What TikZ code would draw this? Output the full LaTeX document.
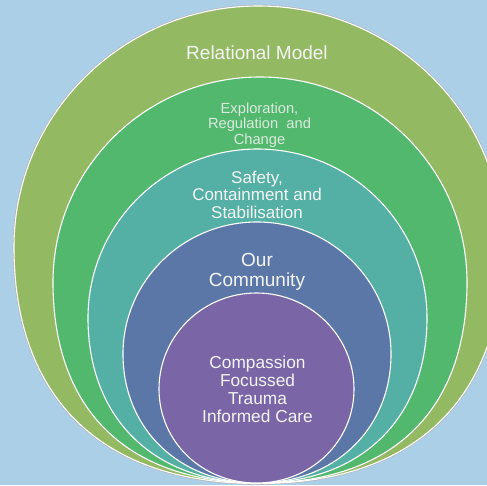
\documentclass[tikz,border=0pt]{standalone}
\usepackage{fontspec}
\setmainfont{Liberation Sans}
\definecolor{bgblue}{HTML}{ACCFE8}
\definecolor{ringA}{HTML}{93BA62}
\definecolor{ringB}{HTML}{52B86E}
\definecolor{ringC}{HTML}{54B0A5}
\definecolor{ringD}{HTML}{5B77A8}
\definecolor{ringE}{HTML}{7A65A6}
\definecolor{txt}{HTML}{F4F4F4}
\definecolor{txtdim}{HTML}{DCE9DE}
\tikzset{
  ring/.style={draw=white, line width=1.1pt},
  lbl/.style={anchor=base, inner sep=0pt, text=txt},
}
\newcommand{\lines}[3]{\fontsize{#1}{#2}\selectfont\begin{tabular}[t]{@{}c@{}}#3\end{tabular}}
% #1 cx, #2 ytop, #3 yc, #4 rx, #5 ybot, #6 k (bottom fullness)
\newcommand{\ringpath}[6]{%
  ({#1-#4},#3) .. controls ({#1-#4},{#3-0.5523*(#3-#2)}) and ({#1-0.5523*#4},#2) .. (#1,#2)
  .. controls ({#1+0.5523*#4},#2) and ({#1+#4},{#3-0.5523*(#3-#2)}) .. ({#1+#4},#3)
  .. controls ({#1+#4},{#3+#6*(#5-#3)}) and ({#1+#6*#4},#5) .. (#1,#5)
  .. controls ({#1-#6*#4},#5) and ({#1-#4},{#3+#6*(#5-#3)}) .. cycle}
\begin{document}
\begin{tikzpicture}[x=1pt,y=-1pt]
\useasboundingbox (0,0) rectangle (487,485);
\clip (0,0) rectangle (487,485);
\fill[bgblue] (0,0) rectangle (487,485);
% rings
\draw[draw=gray!60!white, line width=2.3pt] \ringpath{258.5}{6}{247}{244.5}{483.5}{0.64};
\draw[ring, fill=ringA] \ringpath{258.5}{6}{247}{244.5}{483.5}{0.64};
\draw[ring, fill=ringB] \ringpath{260}{77}{282}{207}{483}{0.64};
\draw[ring, fill=ringC] \ringpath{257.5}{149}{318}{169.5}{483}{0.61};
\draw[ring, fill=ringD] \ringpath{257}{222}{354}{134}{483}{0.58};
\draw[ring, fill=ringE] \ringpath{256.5}{293}{389}{97.5}{483}{0.56};
% labels
\node[lbl] (t1) at (257,59.5) {\lines{19}{20}{Relational Model}};
\node[lbl, text=txtdim] (t2) at (259.5,113) {\lines{14.7}{15.7}{Exploration,\\Regulation\ \ and\\Change}};
\node[lbl] (t3) at (257,183.3) {\lines{17}{17.2}{Safety,\\Containment and\\Stabilisation}};
\node[lbl] (t4) at (257,266.7) {\lines{19}{18.5}{Our\\Community}};
\node[lbl] (t5) at (257.5,368.3) {\lines{17.3}{18}{Compassion\\Focussed\\Trauma\\Informed Care}};
\end{tikzpicture}
\end{document}
